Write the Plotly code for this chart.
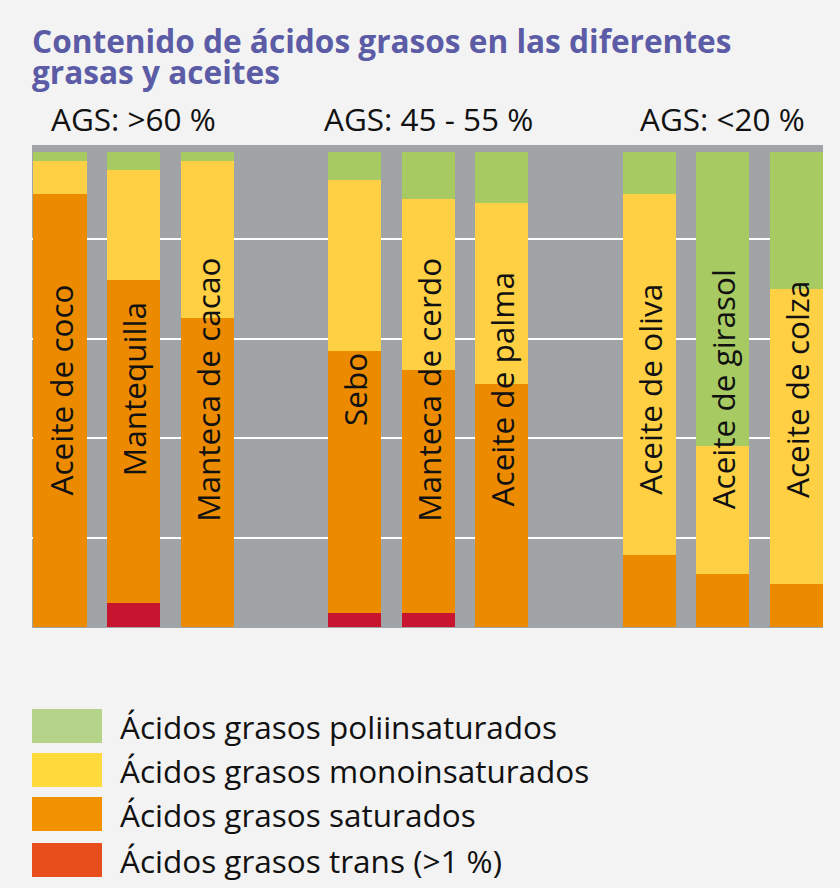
import plotly.graph_objects as go

# ---------------- data ----------------
group_labels = ["AGS: >60 %", "AGS: 45 - 55 %", "AGS: <20 %"]
fats = [
    ["Aceite de coco", "Mantequilla", "Manteca de cacao"],
    ["Sebo", "Manteca de cerdo", "Aceite de palma"],
    ["Aceite de oliva", "Aceite de girasol", "Aceite de colza"],
]
trans = [0, 5.1, 0, 3.0, 2.9, 0, 0, 0, 0]
saturados = [91.2, 68.0, 65.0, 55.0, 51.2, 51.2, 15.2, 11.2, 9.1]
mono = [6.9, 23.2, 33.1, 36.0, 36.0, 38.1, 76.0, 26.9, 62.1]
poli = [1.9, 3.8, 1.9, 5.9, 9.9, 10.7, 8.8, 61.9, 28.8]
series_names = [
    "Ácidos grasos poliinsaturados",
    "Ácidos grasos monoinsaturados",
    "Ácidos grasos saturados",
    "Ácidos grasos trans (>1 %)",
]
title_lines = ["Contenido de ácidos grasos en las diferentes", "grasas y aceites"]
grid_values = [18.7, 39.8, 60.6, 81.7]

# ---------------- styles ----------------
bar_colors = {"poli": "#A8CA63", "mono": "#FFD044", "sat": "#EC8B00", "trans": "#C8152F"}
legend_colors = ["#B5D48A", "#FFDA3C", "#F39200", "#E84E1B"]
W, H = 840, 888
ML, MR, MT, MB = 32, 17, 145, 260
PW, PH = W - ML - MR, H - MT - MB
FONT = "Open Sans"

# positions: one empty slot between groups
x_pos, names = [], []
for gi, g in enumerate(fats):
    for j, n in enumerate(g):
        x_pos.append(gi * (len(g) + 1) + j)
        names.append(n)
group_centers = [gi * (len(g) + 1) + (len(g) - 1) / 2 for gi, g in enumerate(fats)]

fig = go.Figure()
for vals, key in [(trans, "trans"), (saturados, "sat"), (mono, "mono"), (poli, "poli")]:
    fig.add_trace(go.Bar(
        x=x_pos, y=vals, width=0.72,
        marker=dict(color=bar_colors[key], line=dict(width=0)),
        showlegend=False, hoverinfo="skip",
    ))

def px_x(p):
    return (p - ML) / PW

def px_y(p):
    return (H - MB - p) / PH

annotations = []
# bar labels
for x, n in zip(x_pos, names):
    annotations.append(dict(
        x=x, y=50, xref="x", yref="y", text=n, textangle=-90, showarrow=False,
        font=dict(family=FONT, size=31.5, color="#111111"),
        xanchor="center", yanchor="middle",
    ))
# group labels
for c, g in zip(group_centers, group_labels):
    annotations.append(dict(
        x=c, y=px_y(118), xref="x", yref="paper", text=g, showarrow=False,
        font=dict(family=FONT, size=31.5, color="#111111"),
        xanchor="center", yanchor="middle",
    ))
# title (two lines, tight spacing)
for line, yc in zip(title_lines, [41, 71]):
    annotations.append(dict(
        x=px_x(30), y=px_y(yc), xref="paper", yref="paper", text=line,
        showarrow=False, align="left", xanchor="left", yanchor="middle",
        font=dict(family=FONT, size=31.6, color="#5B5BA6", weight="bold"),
    ))

# legend
shapes = []
rows = [(709, 743), (753, 787), (797, 831), (843, 877)]
for (y0, y1), col, name in zip(rows, legend_colors, series_names):
    shapes.append(dict(type="rect", xref="paper", yref="paper",
                       x0=px_x(32), x1=px_x(102), y0=px_y(y1), y1=px_y(y0),
                       fillcolor=col, line=dict(width=0), layer="above"))
    annotations.append(dict(
        x=px_x(118), y=px_y((y0 + y1) / 2), xref="paper", yref="paper", text=name,
        showarrow=False, xanchor="left", yanchor="middle",
        font=dict(family=FONT, size=31.5, color="#111111"),
    ))

fig.update_layout(
    width=W, height=H,
    margin=dict(l=ML, r=MR, t=MT, b=MB, pad=0),
    paper_bgcolor="#F3F3F3", plot_bgcolor="#A0A4A7",
    barmode="stack", bargap=0,
    xaxis=dict(range=[-0.38, 10.36], showticklabels=False, showgrid=False,
               zeroline=False, fixedrange=True),
    yaxis=dict(range=[-0.21, 101.47], tickvals=grid_values, showticklabels=False,
               showgrid=True, gridcolor="#FFFFFF", gridwidth=2, zeroline=False),
    annotations=annotations, shapes=shapes,
)

fig.write_html("out.html",
               config={"displayModeBar": False},
               post_script="document.body.style.margin='0';document.body.style.background='#F3F3F3';")
